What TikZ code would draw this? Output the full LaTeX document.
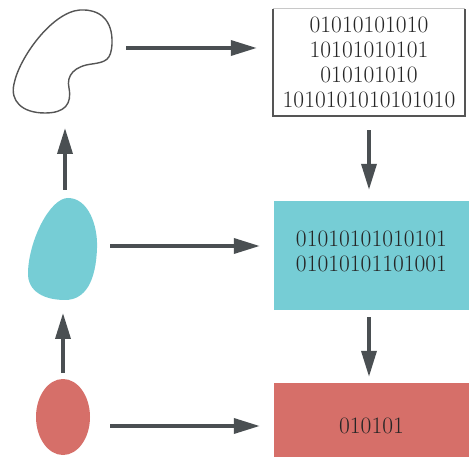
\documentclass[tikz,border=0pt]{standalone}
\usetikzlibrary{arrows.meta,shapes.geometric}

\definecolor{arrowgray}{HTML}{4A4F52}
\definecolor{outlinegray}{HTML}{555555}
\definecolor{lightgray}{HTML}{C8C8C8}
\definecolor{tealfill}{HTML}{76CDD5}
\definecolor{salmonfill}{HTML}{D66F69}

\tikzset{
  flow/.style={draw=arrowgray, line width=3.6pt,
    -{Triangle[length=26pt,width=15pt]}},
  bitbox/.style={rectangle, inner sep=0pt},
  bits/.style={font=\fontsize{23.5}{25}\selectfont, align=center,
    text=black!85, inner sep=0pt},
}

\begin{document}
\begin{tikzpicture}[x=1pt,y=-1pt]
  \useasboundingbox (0,0) rectangle (469,457);

  % outlined kidney-shaped region
  \draw[outlinegray, line width=1.4pt]
    (80,10) .. controls (100,9) and (113,20) .. (112,44)
            .. controls (111,60) and (106,62) .. (92,64)
            .. controls (75,66) and (66,75) .. (69,88)
            .. controls (72,104) and (65,113) .. (45,113)
            .. controls (22,113) and (10,101) .. (14,84)
            .. controls (19,58) and (52,12) .. (80,10) -- cycle;

  % filled egg-shaped region
  \fill[tealfill]
    (68,198) .. controls (88,198) and (98,225) .. (97,248)
             .. controls (96,280) and (86,300) .. (65,300)
             .. controls (45,300) and (27,292) .. (28,272)
             .. controls (29,240) and (50,198) .. (68,198) -- cycle;

  % small filled ellipse
  \node[ellipse, fill=salmonfill, minimum width=54pt, minimum height=76pt,
        inner sep=0pt] (seed) at (63,417) {};

  % arrow anchors next to the shapes
  \coordinate (kidney-right) at (126,48);
  \coordinate (kidney-below) at (65,128);
  \coordinate (egg-right) at (110,246);
  \coordinate (egg-above) at (65,190);
  \coordinate (egg-below) at (63,313);
  \coordinate (seed-right) at (110,426);
  \coordinate (seed-above) at (63,373);

  % bit boxes
  \node[bitbox, minimum width=192pt, minimum height=107pt] (top) at (369,62.5) {};
  \draw[outlinegray, line width=1.5pt]
    (top.north west) -- (top.south west) -- (top.south east) -- (top.north east);
  \draw[lightgray, line width=0.8pt] (top.north west) -- (top.north east);
  \node[bits] (toptext) at (top.center)
    {01010101010\\10101010101\\010101010\\1010101010101010};

  \node[bitbox, fill=tealfill, minimum width=195pt, minimum height=109pt]
    (mid) at (371.5,255.5) {};
  \node[bits, yshift=4pt] (midtext) at (mid.center)
    {01010101010101\\01010101101001};

  \node[bitbox, fill=salmonfill, minimum width=195pt, minimum height=74pt]
    (low) at (371.5,420) {};
  \node[bits, yshift=-6pt] (lowtext) at (low.center) {010101};

  % horizontal connectors
  \draw[flow, shorten >=16pt] (kidney-right) -- (kidney-right -| top.west);
  \draw[flow, shorten >=14pt] (egg-right) -- (egg-right -| mid.west);
  \draw[flow, shorten >=14pt] (seed-right) -- (seed-right -| low.west);

  % vertical connectors on the left
  \draw[flow] (seed-above) -- (egg-below);
  \draw[flow] (egg-above) -- (kidney-below);

  % vertical connectors on the right
  \draw[flow, shorten <=14pt, shorten >=11pt] (top.south) -- (top.south |- mid.north);
  \draw[flow, shorten <=7pt, shorten >=6pt] (top.south |- mid.south) -- (top.south |- low.north);
\end{tikzpicture}
\end{document}
